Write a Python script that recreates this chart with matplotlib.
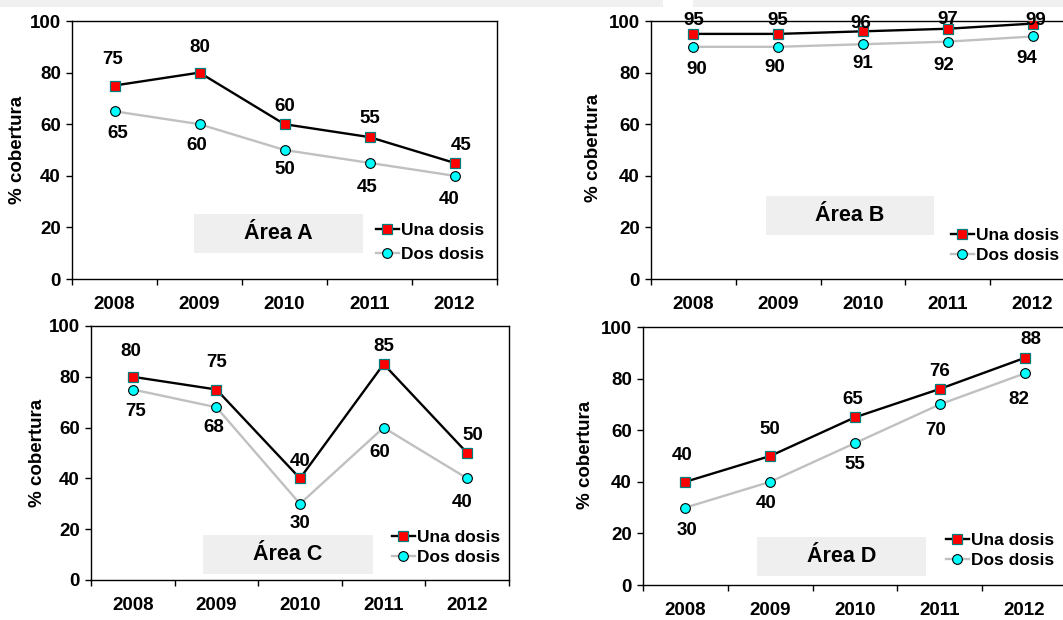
import matplotlib
matplotlib.use("Agg")
import matplotlib.pyplot as plt
from matplotlib.patches import Rectangle
from matplotlib.lines import Line2D

# coberturas por area, una y dos dosis
years = ["2008", "2009", "2010", "2011", "2012"]
area_names = ["Área A", "Área B", "Área C", "Área D"]
una_a = [75, 80, 60, 55, 45]
dos_a = [65, 60, 50, 45, 40]
una_b = [95, 95, 96, 97, 99]
dos_b = [90, 90, 91, 92, 94]
una_c = [80, 75, 40, 85, 50]
dos_c = [75, 68, 30, 60, 40]
una_d = [40, 50, 65, 76, 88]
dos_d = [30, 40, 55, 70, 82]

W, H = 1063, 620
plt.rcParams["font.family"] = ["Liberation Sans", "DejaVu Sans"]
plt.rcParams["font.weight"] = "bold"

fig = plt.figure(figsize=(W / 100, H / 100), dpi=100)


def px_rect(left, top, right, bottom):
    return [left / W, 1 - bottom / H, (right - left) / W, (bottom - top) / H]


# franja gris superior
fig.patches.append(Rectangle((0, 1 - 7 / H), 663 / W, 7 / H, transform=fig.transFigure,
                             facecolor="#f0f0f0", edgecolor="none"))
fig.patches.append(Rectangle((693 / W, 1 - 7 / H), (W - 693) / W, 7 / H, transform=fig.transFigure,
                             facecolor="#f0f0f0", edgecolor="none"))

# (ejes, caja del titulo, leyenda, etiqueta y, desplazamientos de etiquetas en px)
panels = [
    dict(una=una_a, dos=dos_a, name=area_names[0],
         ax=(72, 21, 497, 279), box=(194, 214, 363, 253), leg=(376, 223), legsp=0.5,
         ylab=(18, 150), up=[-26, -25, -18, -19, -17], down=[22, 21, 19, 25, 24],
         updx=[-2, 0, 0, 0, 7], downdx=[3, -3, 0, -2, -5]),
    dict(una=una_b, dos=dos_b, name=area_names[1],
         ax=(651, 21, 1075, 279), box=(766, 196, 934, 235), leg=(951, 228), legsp=0.25,
         ylab=(594, 148), up=[-13, -13, -8, -9, -3], down=[23, 21, 19, 24, 22],
         updx=[0, 0, -2, 0, 3], downdx=[3, -3, 0, -4, -6]),
    dict(una=una_c, dos=dos_c, name=area_names[2],
         ax=(91, 326, 509, 580), box=(203, 535, 373, 574), leg=(392, 530), legsp=0.25,
         ylab=(37, 453), up=[-25, -27, -17, -18, -18], down=[22, 20, 20, 25, 24],
         updx=[-2, 0, 0, 0, 6], downdx=[3, -3, 0, -4, -5]),
    dict(una=una_d, dos=dos_d, name=area_names[3],
         ax=(643, 327, 1067, 585), box=(757, 537, 926, 576), leg=(946, 533), legsp=0.25,
         ylab=(586, 455), up=[-26, -26, -18, -17, -18], down=[23, 22, 21, 26, 26],
         updx=[-3, 0, -2, 0, 6], downdx=[2, -4, 0, -4, -6]),
]

x = list(range(len(years)))
for p in panels:
    ax = fig.add_axes(px_rect(*p["ax"]))
    ax.plot(x, p["una"], color="black", lw=1.7, marker="s", ms=6.5,
            markerfacecolor="#ff0000", markeredgecolor="#007f7f", markeredgewidth=0.9,
            label="Una dosis", zorder=3)
    ax.plot(x, p["dos"], color="#c0c0c0", lw=1.7, marker="o", ms=7,
            markerfacecolor="#00ffff", markeredgecolor="black", markeredgewidth=0.8,
            label="Dos dosis", zorder=3)

    for i in x:
        ax.annotate(str(p["una"][i]), (i, p["una"][i]), xytext=(p["updx"][i] * 0.72, -p["up"][i] * 0.72),
                    textcoords="offset points", ha="center", va="center", fontsize=13.5,
                    fontweight="bold", zorder=4, annotation_clip=False)
        ax.annotate(str(p["dos"][i]), (i, p["dos"][i]), xytext=(p["downdx"][i] * 0.72, -p["down"][i] * 0.72),
                    textcoords="offset points", ha="center", va="center", fontsize=13.5,
                    fontweight="bold", zorder=4, annotation_clip=False)

    ax.set_xlim(-0.5, len(years) - 0.5)
    ax.set_ylim(0, 100)
    ax.set_yticks(range(0, 101, 20))
    ax.set_xticks([i - 0.5 for i in range(len(years) + 1)])
    ax.set_xticklabels([])
    ax.set_xticks(x, minor=True)
    ax.set_xticklabels(years, minor=True)
    ax.tick_params(axis="x", which="major", direction="out", length=4, width=1)
    ax.tick_params(axis="x", which="minor", length=0, pad=12, labelsize=13.5)
    ax.tick_params(axis="y", direction="out", length=4, width=1, pad=4, labelsize=13.5)
    for s in ax.spines.values():
        s.set_linewidth(1.0)
        s.set_color("black")

    bl, bt, br, bb = p["box"]
    fig.patches.append(Rectangle((bl / W, 1 - bb / H), (br - bl) / W, (bb - bt) / H,
                                 transform=fig.transFigure, facecolor="#efefef", edgecolor="none", zorder=5))
    fig.text((bl + br) / 2 / W, 1 - (bt + bb) / 2 / H, p["name"], ha="center", va="center",
             fontsize=15.5, fontweight="bold", zorder=6)

    fig.text(p["ylab"][0] / W, 1 - p["ylab"][1] / H, "% cobertura", rotation=90,
             ha="center", va="center", fontsize=13.5, fontweight="bold")

    handles = [
        Line2D([], [], color="black", lw=1.7, marker="s", ms=6.5, markerfacecolor="#ff0000",
               markeredgecolor="#007f7f", markeredgewidth=0.9),
        Line2D([], [], color="#c0c0c0", lw=1.7, marker="o", ms=7, markerfacecolor="#00ffff",
               markeredgecolor="black", markeredgewidth=0.8),
    ]
    leg = ax.legend(handles, ["Una dosis", "Dos dosis"], loc="upper left",
                    bbox_to_anchor=(p["leg"][0] / W, 1 - p["leg"][1] / H),
                    bbox_transform=fig.transFigure, frameon=False, fontsize=12.5,
                    handlelength=1.3, handletextpad=0.15, labelspacing=p["legsp"],
                    borderpad=0, borderaxespad=0)
    for t in leg.get_texts():
        t.set_fontweight("bold")

fig.savefig("out.png", dpi=100)
